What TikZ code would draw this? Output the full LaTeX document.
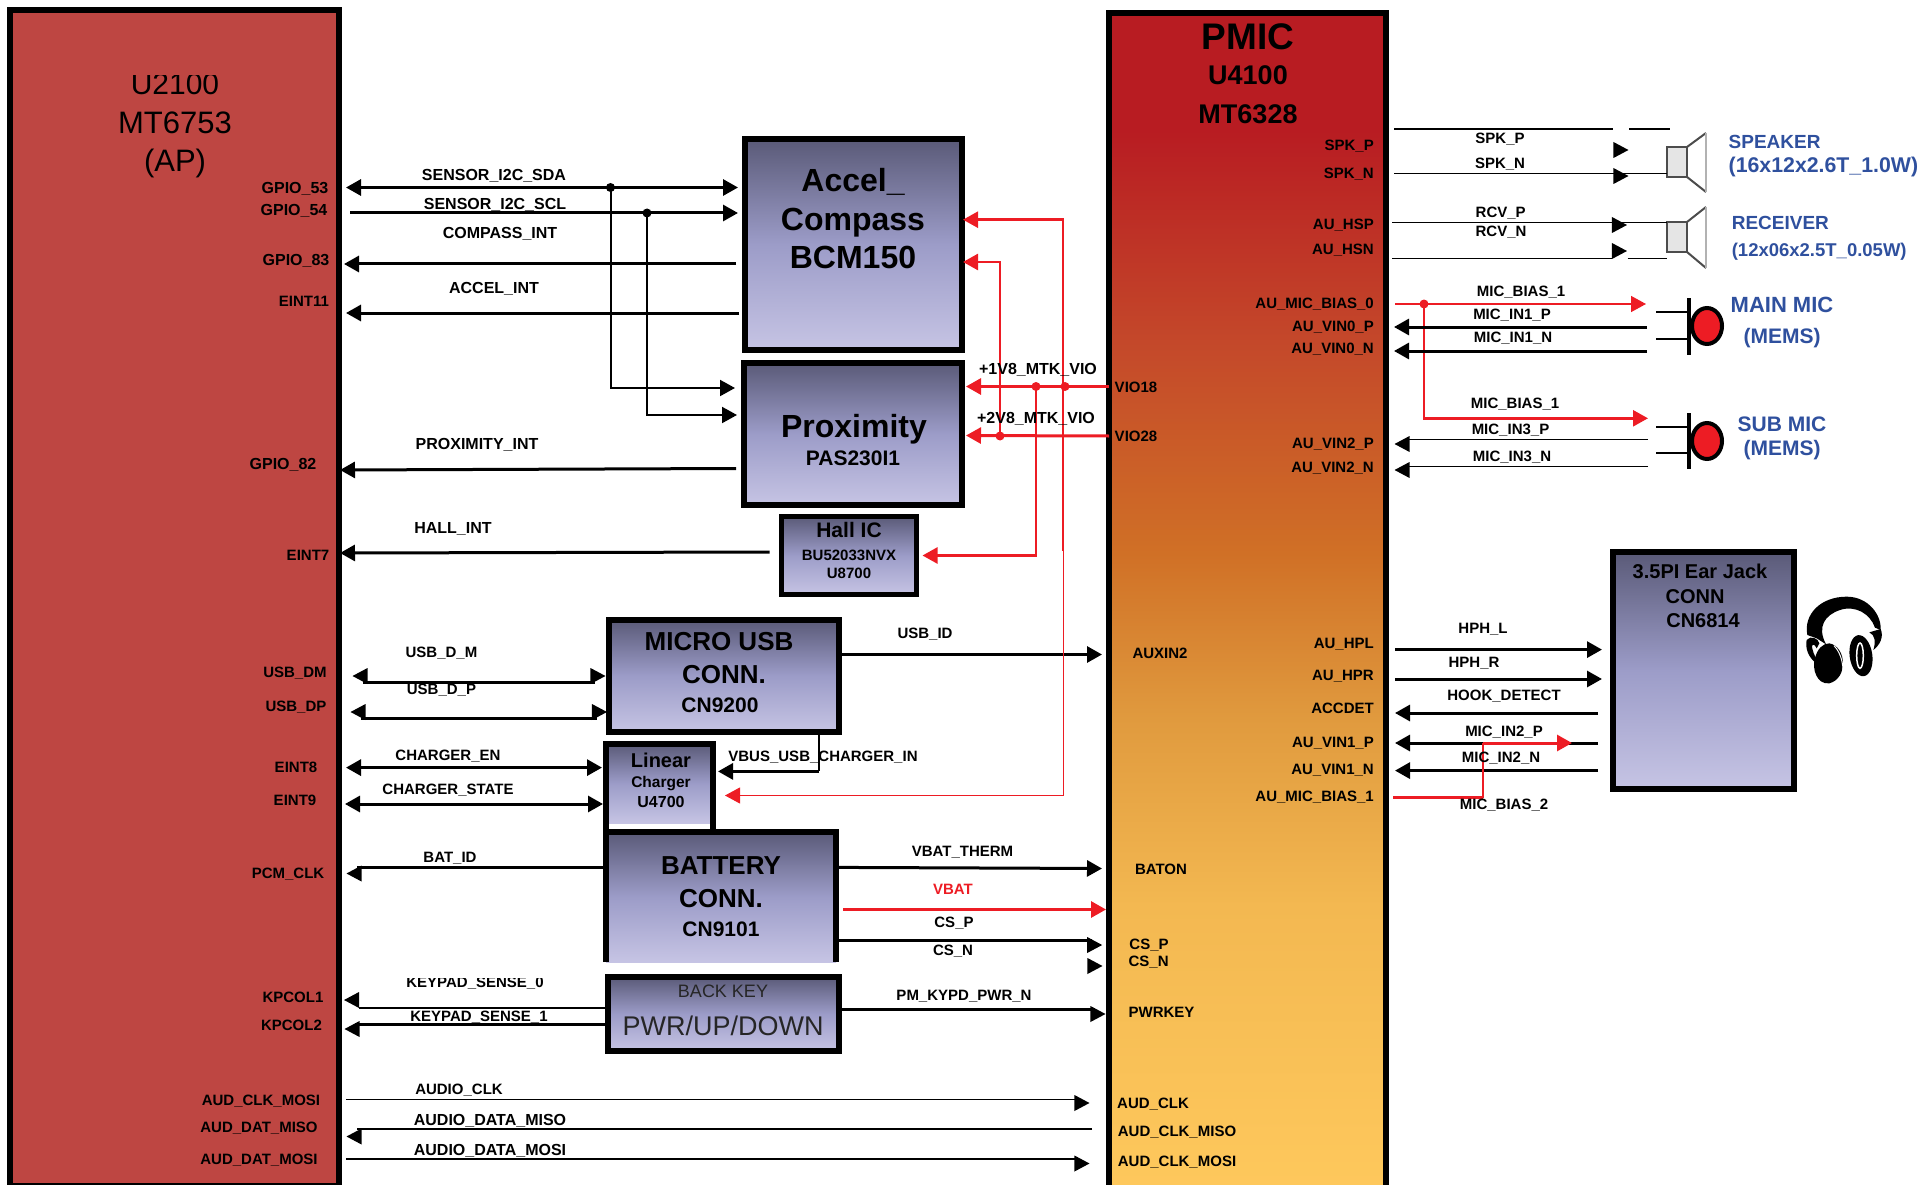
\documentclass[tikz,border=0pt]{standalone}
\usepackage{fontspec}
\setmainfont{Liberation Sans}
\usepackage{xcolor}
\usetikzlibrary{arrows.meta,shapes.geometric}

\definecolor{apred}{HTML}{BE4642}
\definecolor{blockT}{HTML}{5A5A78}
\definecolor{blockM}{HTML}{9C9CC8}
\definecolor{blockB}{HTML}{C6C4E4}
\definecolor{pinblue}{HTML}{2F509E}
\definecolor{sigred}{HTML}{ED1C24}
\definecolor{pmicA}{HTML}{B81C22}
\definecolor{pmicB}{HTML}{C4482A}
\definecolor{pmicC}{HTML}{D07026}
\definecolor{pmicD}{HTML}{E09A3E}
\definecolor{pmicE}{HTML}{F3B851}
\definecolor{pmicF}{HTML}{FEC85C}
\pgfdeclareverticalshading{pmicfill}{100bp}{color(0bp)=(pmicF); color(25bp)=(pmicF); color(37bp)=(pmicE); color(45bp)=(pmicD); color(52bp)=(pmicC); color(61bp)=(pmicB); color(70bp)=(pmicA); color(100bp)=(pmicA)}

\tikzset{
    blockfill/.style={rectangle, inner sep=0pt, outer sep=0pt, top color=blockT, bottom color=blockB, middle color=blockM},
    blockbox/.style={blockfill, draw=black, line width=6pt},
    edge/.style={draw=black, line width=6pt},
    blocktext/.style={align=center, inner sep=0pt, font=\bfseries\fontsize{#1}{38.5}\selectfont},
    thintext/.style={align=center, inner sep=0pt, font=\fontsize{#1}{38.5}\selectfont},
    netname/.style={inner sep=0pt, yshift=-1pt, font=\bfseries\fontsize{15}{15}\selectfont},
    widename/.style={netname, font=\bfseries\fontsize{16}{16}\selectfont},
    pinname/.style={inner sep=0pt, yshift=-1pt, font=\bfseries\fontsize{15}{15}\selectfont},
    pinwide/.style={pinname, font=\bfseries\fontsize{16}{16}\selectfont},
    pinright/.style={pinname, anchor=east},
    partname/.style={inner sep=0pt, text=pinblue, font=\bfseries\fontsize{#1}{#1}\selectfont},
    sig/.style={line width=3pt, >={Triangle[length=15pt,width=16pt]}},
    sigthin/.style={line width=1.5pt, >={Triangle[length=15pt,width=16pt]}},
    redsig/.style={sig, draw=sigred, color=sigred},
    redthin/.style={sigthin, line width=1pt, draw=sigred, color=sigred},
    dot/.style={circle, fill=black, inner sep=0pt, minimum size=9pt},
    reddot/.style={dot, fill=sigred},
    tipl/.style={isosceles triangle, isosceles triangle stretches, shape border rotate=180, fill=black, inner sep=0pt, minimum height=15pt, minimum width=16pt, anchor=apex},
    tipr/.style={isosceles triangle, isosceles triangle stretches, fill=black, inner sep=0pt, minimum height=15pt, minimum width=16pt, anchor=apex},
    spkbox/.style={rectangle, draw=black!70, fill=black!10, line width=2pt, inner sep=0pt, outer sep=0pt, minimum width=20pt, minimum height=30pt},
    cone/.style={draw=black!70, line width=2pt},
    micbar/.style={draw=black, line width=3.5pt},
    micdot/.style={ellipse, draw=black, fill=sigred, line width=4pt, inner sep=0pt, minimum width=30pt, minimum height=36pt}
}

\begin{document}
\begin{tikzpicture}[x=1pt, y=-1pt]
    \useasboundingbox (0,0) rectangle (1920,1185);

    % AP
    \node[rectangle, draw=black, fill=apred, line width=6pt, inner sep=0pt, outer sep=0pt, minimum width=329pt, minimum height=1176pt] (ap) at (174.5,598) {};
    \begin{scope}
        \clip (60,76) rectangle (290,100);
        \node[thintext=30] (apref) at (175,84) {U2100};
    \end{scope}
    \node[thintext=31] (apchip) at (175,123) {MT6753};
    \node[thintext=31] (aprole) at (175,163) {(AP)};

    % PMIC
    \node[rectangle, draw=black, shade, shading=pmicfill, line width=6pt, inner sep=0pt, outer sep=0pt, minimum width=277pt, minimum height=1175pt] (pmic) at (1247.5,600.5) {};
    \node[blocktext=37] (pmicname) at (1248,37) {PMIC};
    \node[blocktext=27] (pmicref) at (1248,75) {U4100};
    \node[blocktext=27] (pmicchip) at (1248,114) {MT6328};

    % Sensor blocks
    \node[blockbox, minimum width=217pt, minimum height=211pt] (accel) at (853.5,244.5) {};
    \node[blocktext=32] (accelname) at (853,219) {Accel\_\\Compass\\BCM150};
    \node[blockbox, minimum width=218pt, minimum height=142pt] (prox) at (853,434) {};
    \node[blocktext=32] (proxname) at (854,429) {Proximity};
    \node[blocktext=21] (proxchip) at (853,458) {PAS230I1};
    \node[blockbox, line width=5pt, minimum width=135pt, minimum height=78pt] (hall) at (849,555.5) {};
    \node[blocktext=21] (hallname) at (849,530) {Hall IC};
    \node[blocktext=15] (hallchip) at (849,555) {BU52033NVX};
    \node[blocktext=15] (hallref) at (849,573) {U8700};

    % Connector and charger blocks
    \node[blockbox, minimum width=230pt, minimum height=112pt] (micro) at (724,676) {};
    \node[blocktext=26] (microname) at (719,642) {MICRO USB};
    \node[blocktext=26] (microconn) at (724,675) {CONN.};
    \node[blocktext=21] (microref) at (720,705) {CN9200};
    \node[blockfill, minimum width=107pt, minimum height=79pt] (charger) at (659.5,783.5) {};
    \draw[edge] ([yshift=-6pt]charger.south west) |- (charger.north east) -- ([yshift=-6pt]charger.south east);
    \node[blocktext=20] (chargername) at (661,760) {Linear};
    \node[blocktext=15.5] (chargertype) at (661,784) {Charger};
    \node[blocktext=16] (chargerref) at (661,802) {U4700};
    \node[blockfill, minimum width=230pt, minimum height=130pt] (batt) at (721,897) {};
    \draw[edge] (batt.south west) |- (batt.north east) -- (batt.south east);
    \node[blocktext=26] (battname) at (721,866) {BATTERY};
    \node[blocktext=26] (battconn) at (721,899) {CONN.};
    \node[blocktext=21] (battref) at (721,929) {CN9101};
    \node[blockbox, minimum width=231pt, minimum height=74pt] (back) at (723.5,1014) {};
    \node[thintext=18, text=black!85] (backname) at (723,991) {BACK KEY};
    \node[thintext=27, text=black!85] (backkeys) at (723,1026) {PWR/UP/DOWN};
    \node[blockbox, minimum width=181pt, minimum height=237pt] (jack) at (1703.5,670.5) {};
    \node[blocktext=20] (jackname) at (1700,571) {3.5PI Ear Jack};
    \node[blocktext=20] (jackconn) at (1695,597) {CONN};
    \node[blocktext=20] (jackref) at (1703,621) {CN6814};

    % AP pins
    \node[pinwide] (gpio53) at (295,187.5) {GPIO\_53};
    \node[pinwide] (gpio54) at (294,210) {GPIO\_54};
    \node[pinwide] (gpio83) at (296,260) {GPIO\_83};
    \node[pinname] (eint11) at (304,300) {EINT11};
    \node[pinwide] (gpio82) at (283,464) {GPIO\_82};
    \node[pinname] (eint7) at (308,554) {EINT7};
    \node[pinname] (usbdm) at (295,672) {USB\_DM};
    \node[pinname] (usbdp) at (296,706.5) {USB\_DP};
    \node[pinname] (eint8) at (296,766.5) {EINT8};
    \node[pinname] (eint9) at (295,799.5) {EINT9};
    \node[pinname] (pcmclk) at (288,873) {PCM\_CLK};
    \node[pinname] (kpcol1) at (293,996) {KPCOL1};
    \node[pinname] (kpcol2) at (291.5,1024.5) {KPCOL2};
    \node[pinname] (audclkmosi) at (261,1100) {AUD\_CLK\_MOSI};
    \node[pinname] (auddatmiso) at (259,1127) {AUD\_DAT\_MISO};
    \node[pinname] (auddatmosi) at (259,1159) {AUD\_DAT\_MOSI};

    % PMIC pins, left side
    \node[pinname] (vio18) at (1136,386.5) {VIO18};
    \node[pinname] (vio28) at (1136,435.5) {VIO28};
    \node[pinname] (auxin2) at (1160,652.6) {AUXIN2};
    \node[pinname] (baton) at (1161,868) {BATON};
    \node[pinname] (csp) at (1149,943.7) {CS\_P};
    \node[pinname] (csn) at (1148.6,961.5) {CS\_N};
    \node[pinname] (pwrkey) at (1161.5,1011) {PWRKEY};
    \node[pinname] (audclk) at (1153,1102.7) {AUD\_CLK};
    \node[pinname] (audclkmiso) at (1177,1131.5) {AUD\_CLK\_MISO};
    \node[pinname] (audclkmosib) at (1177,1161.5) {AUD\_CLK\_MOSI};

    % PMIC pins, right side
    \node[pinright] (spkp) at (1374,145.4) {SPK\_P};
    \node[pinright] (spkn) at (1374,173.4) {SPK\_N};
    \node[pinright] (auhsp) at (1374,224) {AU\_HSP};
    \node[pinright] (auhsn) at (1374,249) {AU\_HSN};
    \node[pinright] (aubias0) at (1374,302.7) {AU\_MIC\_BIAS\_0};
    \node[pinright] (auvin0p) at (1374,326.4) {AU\_VIN0\_P};
    \node[pinright] (auvin0n) at (1374,348) {AU\_VIN0\_N};
    \node[pinright] (auvin2p) at (1374,443) {AU\_VIN2\_P};
    \node[pinright] (auvin2n) at (1374,467) {AU\_VIN2\_N};
    \node[pinright] (auhpl) at (1374,643.5) {AU\_HPL};
    \node[pinright] (auhpr) at (1374,675.4) {AU\_HPR};
    \node[pinright] (accdet) at (1374,707) {ACCDET};
    \node[pinright] (auvin1p) at (1374,742) {AU\_VIN1\_P};
    \node[pinright] (auvin1n) at (1374,769.5) {AU\_VIN1\_N};
    \node[pinright] (aubias1) at (1374,796.5) {AU\_MIC\_BIAS\_1};

    % Sensor nets
    \node[dot] (sdadot) at (610.5,187.5) {};
    \node[dot] (scldot) at (647,213) {};
    \draw[sig,<->] ([xshift=7pt]ap.east |- 0,187.5) -- ([xshift=-7pt]accel.west |- 0,187.5);
    \draw[sig,->] ([xshift=11pt]ap.east |- 0,213) -- ([xshift=-7pt]accel.west |- 0,213);
    \draw[sig,->] ([xshift=-9pt]accel.west |- 0,264) -- ([xshift=5pt]ap.east |- 0,264);
    \draw[sig,->] ([xshift=-6pt]accel.west |- 0,313) -- ([xshift=7pt]ap.east |- 0,313);
    \draw[sig,line width=2pt,->] (sdadot.center) |- ([xshift=-9pt]prox.west |- 0,388);
    \draw[sig,line width=2pt,->] (scldot.center) |- ([xshift=-7pt]prox.west |- 0,415);
    \draw[sig,->] ([xshift=-8pt]prox.west |- 0,468.5) -- ([xshift=1pt]ap.east |- 0,470);
    \draw[sig,->] ([xshift=-12pt]hall.west |- 0,552) -- ([xshift=1pt]ap.east |- 0,553);
    \node[widename] (sdaname) at (494,175) {SENSOR\_I2C\_SDA};
    \node[widename] (sclname) at (495,204) {SENSOR\_I2C\_SCL};
    \node[widename] (compassname) at (500,233) {COMPASS\_INT};
    \node[widename] (accelint) at (494,288) {ACCEL\_INT};
    \node[widename] (proxint) at (477,444) {PROXIMITY\_INT};
    \node[widename] (hallint) at (453,528) {HALL\_INT};

    % USB and charger nets
    \node[tipl] (usbmltip) at (352,676) {};
    \node[tipr] (usbmrtip) at (606,676) {};
    \node[tipl] (usbpltip) at (350,712) {};
    \node[tipr] (usbprtip) at (607.5,712) {};
    \draw[sig] (usbmltip.center |- 0,682) -- (usbmrtip.center |- 0,682);
    \draw[sig] (usbpltip.center |- 0,718) -- (usbprtip.center |- 0,718);
    \draw[sig,<->] ([xshift=7pt]ap.east |- 0,767.6) -- ([xshift=-4pt]charger.west |- 0,767.6);
    \draw[sig,<->] ([xshift=6pt]ap.east |- 0,804) -- ([xshift=-3pt]charger.west |- 0,804);
    \draw[sig,->] (micro.east |- 0,654.5) -- ([xshift=-7pt]pmic.west |- 0,654.5);
    \draw[sigthin] ([xshift=-20pt]micro.south east) -- ([xshift=-20pt]micro.east |- 0,771.4);
    \draw[sig,->] ([xshift=-20pt]micro.east |- 0,771.4) -- ([xshift=5pt]charger.east |- 0,771.4);
    \node[netname] (usbmname) at (441.5,652.6) {USB\_D\_M};
    \node[netname] (usbpname) at (441.5,689) {USB\_D\_P};
    \node[netname] (chgenname) at (448,755.5) {CHARGER\_EN};
    \node[netname] (chgstname) at (448,789) {CHARGER\_STATE};
    \node[netname] (usbidname) at (925,633.6) {USB\_ID};
    \node[netname] (vbusname) at (823,756) {VBUS\_USB\_CHARGER\_IN};

    % Battery and key nets
    \node[tipl] (batidtip) at (346,873.5) {};
    \node[tipr] (csptip) at (1102.7,945) {};
    \node[tipr] (csntip) at (1103,966) {};
    \node[tipr] (pwrtip) at (1106,1014) {};
    \node[tipl] (key0tip) at (343.5,1000) {};
    \node[tipl] (key1tip) at (344,1029) {};
    \draw[sig] (batt.west |- 0,867.4) -- (batidtip.center |- 0,867.4);
    \draw[sig,->] (batt.east |- 0,867.4) -- ([xshift=-7pt]pmic.west |- 0,868.5);
    \draw[redsig,->] ([xshift=7pt]batt.east |- 0,909.5) -- ([xshift=-3pt]pmic.west |- 0,909.5);
    \draw[sig] (batt.east |- 0,940.7) -- (csptip.center |- 0,940.7);
    \draw[sig] (back.east |- 0,1009.4) -- (pwrtip.center |- 0,1009.4);
    \draw[sig,line width=2.5pt] (back.west |- 0,1008) -- (key0tip.east |- 0,1008);
    \draw[sig] (back.west |- 0,1024) -- (key1tip.center |- 0,1024);
    \node[netname] (batidname) at (450,857) {BAT\_ID};
    \node[netname] (thermname) at (962.5,851.5) {VBAT\_THERM};
    \node[netname, text=sigred] (vbatname) at (953,888) {VBAT};
    \node[netname] (cspname) at (954,922) {CS\_P};
    \node[netname] (csnname) at (953,950) {CS\_N};
    \node[netname] (pwrname) at (964,995.5) {PM\_KYPD\_PWR\_N};
    \begin{scope}
        \clip (400,978) rectangle (560,1000);
        \node[netname] (key0name) at (475,982) {KEYPAD\_SENSE\_0};
    \end{scope}
    \node[netname] (key1name) at (479,1016) {KEYPAD\_SENSE\_1};

    % Audio bus nets
    \node[tipr] (clktip) at (1090,1103) {};
    \node[tipl] (misotip) at (346,1136.5) {};
    \node[tipr] (mositip) at (1090,1163.5) {};
    \draw[sigthin] ([xshift=7pt]ap.east |- 0,1099.5) -- (clktip.center |- 0,1099.5);
    \draw[sigthin] ([xshift=-17pt]pmic.west |- 0,1129) -- (misotip.center |- 0,1129);
    \draw[sigthin] ([xshift=7pt]ap.east |- 0,1159) -- (mositip.center |- 0,1159);
    \node[netname] (audclkname) at (459,1089.5) {AUDIO\_CLK};
    \node[widename] (audmisoname) at (490,1119.5) {AUDIO\_DATA\_MISO};
    \node[widename] (audmosiname) at (490,1149.5) {AUDIO\_DATA\_MOSI};

    % Power nets
    \node[reddot] (vio18dota) at (1065,386.5) {};
    \node[reddot] (vio18dotb) at (1036,386.5) {};
    \node[reddot] (vio28dot) at (1000,436) {};
    \coordinate (vio18bend) at (1063,551);
    \draw[redsig,->] (pmic.west |- 0,386.5) -- ([xshift=4pt]prox.east |- 0,386.5);
    \draw[redsig,->] (pmic.west |- 0,436) -- ([xshift=4pt]prox.east |- 0,435.5);
    \draw[redsig,line width=2.5pt,->] ([xshift=-2pt]vio18dota.center) |- ([xshift=1pt]accel.east |- 0,219.7);
    \draw[redsig,line width=2.5pt,->] (vio28dot.center) |- ([xshift=1pt]accel.east |- 0,262);
    \draw[redsig,line width=2.5pt,->] (vio18dotb.center) |- ([xshift=6pt]hall.east |- 0,555.5);
    \draw[redsig,line width=2.5pt] ([xshift=-2pt]vio18dota.center) -- (vio18bend);
    \draw[redthin,->] (vio18bend) |- ([xshift=12pt]charger.east |- 0,795.5);
    \node[widename] (vio18name) at (1038,369) {+1V8\_MTK\_VIO};
    \node[widename] (vio28name) at (1036,417.5) {+2V8\_MTK\_VIO};

    % Speaker nets
    \node[spkbox] (spk) at (1677,162) {};
    \node[spkbox] (rcv) at (1677,237) {};
    \draw[cone] (spk.north east) -- ++(19,-14);
    \draw[cone] (spk.south east) -- ++(19,15);
    \draw[draw=black!30, line width=2.5pt] ([xshift=19pt,yshift=14pt]spk.north east) -- ([xshift=19pt,yshift=-15pt]spk.south east);
    \draw[cone] (rcv.north east) -- ++(19,-15);
    \draw[cone] (rcv.south east) -- ++(19,16);
    \draw[draw=black!30, line width=2.5pt] ([xshift=19pt,yshift=15pt]rcv.north east) -- ([xshift=19pt,yshift=-16pt]rcv.south east);
    \node[tipr] (spkptip) at (1629,150) {};
    \node[tipr] (spkntip) at (1629,176) {};
    \node[tipr] (rcvptip) at (1627.5,225) {};
    \node[tipr] (rcvntip) at (1627.5,251) {};
    \draw[sigthin,line width=2pt] ([xshift=8pt]pmic.east |- 0,129) -- (spkptip.west |- 0,129);
    \draw[sigthin,line width=2pt] (spkptip.apex |- 0,129) -- ([xshift=3pt]spk.west |- 0,129);
    \draw[sigthin] ([xshift=8pt]pmic.east |- 0,173.4) -- (spk.west |- 0,173.4);
    \draw[sigthin] ([xshift=6pt]pmic.east |- 0,222.3) -- (rcv.west |- 0,222.3);
    \draw[sigthin] ([xshift=6pt]pmic.east |- 0,258.3) -- (rcvntip.west |- 0,258.3);
    \draw[sigthin] (rcvntip.apex |- 0,258.3) -- (rcv.west |- 0,258.3);
    \node[netname] (spkpname) at (1500,138.5) {SPK\_P};
    \node[netname] (spknname) at (1500,163.4) {SPK\_N};
    \node[netname] (rcvpname) at (1500.7,212) {RCV\_P};
    \node[netname] (rcvnname) at (1501,231.5) {RCV\_N};

    % Microphones
    \node[micdot] (mainmic) at (1707,326) {};
    \node[micdot] (submic) at (1707,441) {};
    \draw[micbar] (mainmic.center |- 0,298) ++(-18,0) -- ++(0,57);
    \draw[micbar] (submic.center |- 0,413) ++(-18,0) -- ++(0,56);
    \draw[sigthin,line width=2pt] (mainmic.west |- 0,312) -- ++(-34,0);
    \draw[sigthin,line width=2pt] (mainmic.west |- 0,339) -- ++(-34,0);
    \draw[sigthin,line width=2pt] (submic.west |- 0,427) -- ++(-34,0);
    \draw[sigthin,line width=2pt] (submic.west |- 0,453) -- ++(-34,0);

    % Microphone nets
    \node[reddot] (biasdot) at (1424,304) {};
    \node[tipl] (in3ptip) at (1394,444) {};
    \node[tipl] (in3ntip) at (1394,470) {};
    \draw[redthin,line width=1.5pt,->] ([xshift=9pt]pmic.east |- 0,304) -- ([xshift=-61pt]mainmic.center |- 0,304);
    \draw[redsig,line width=2.5pt,->] (biasdot.center) |- ([xshift=-59pt]submic.center |- 0,418.3);
    \draw[sig,->] ([xshift=-60pt]mainmic.center |- 0,327) -- ([xshift=8pt]pmic.east |- 0,327);
    \draw[sig,->] ([xshift=-60pt]mainmic.center |- 0,351) -- ([xshift=8pt]pmic.east |- 0,351);
    \draw[sigthin] ([xshift=-59pt]submic.center |- 0,439.3) -- (in3ptip.center |- 0,439.3);
    \draw[sigthin] ([xshift=-59pt]submic.center |- 0,466.5) -- (in3ntip.center |- 0,466.5);
    \node[netname] (bias0name) at (1521,291.6) {MIC\_BIAS\_1};
    \node[netname] (in1pname) at (1512,314.6) {MIC\_IN1\_P};
    \node[netname] (in1nname) at (1513,337) {MIC\_IN1\_N};
    \node[netname] (bias1name) at (1515,403.4) {MIC\_BIAS\_1};
    \node[netname] (in3pname) at (1510.5,429.4) {MIC\_IN3\_P};
    \node[netname] (in3nname) at (1512,456) {MIC\_IN3\_N};

    % Ear jack nets
    \coordinate (biasbend) at (1483,797.6);
    \draw[sig,->] ([xshift=9pt]pmic.east |- 0,649.6) -- ([xshift=-11pt]jack.west |- 0,649.6);
    \draw[sig,->] ([xshift=9pt]pmic.east |- 0,679) -- ([xshift=-11pt]jack.west |- 0,679);
    \draw[sig,->] ([xshift=-15pt]jack.west |- 0,713) -- ([xshift=9pt]pmic.east |- 0,713);
    \draw[sig,->] ([xshift=-15pt]jack.west |- 0,743) -- ([xshift=9pt]pmic.east |- 0,743);
    \draw[sig,->] ([xshift=-15pt]jack.west |- 0,770.6) -- ([xshift=9pt]pmic.east |- 0,770.6);
    \draw[redsig] ([xshift=7pt]pmic.east |- biasbend) -- (biasbend);
    \draw[redsig,line width=1.5pt] (biasbend) -- (biasbend |- 0,743);
    \draw[redsig,->] (biasbend |- 0,743) -- ([xshift=-41pt]jack.west |- 0,743);
    \node[netname] (hplname) at (1483,628) {HPH\_L};
    \node[netname] (hprname) at (1474,662.5) {HPH\_R};
    \node[netname] (hookname) at (1504,695) {HOOK\_DETECT};
    \node[netname] (in2pname) at (1504,731) {MIC\_IN2\_P};
    \node[netname] (in2nname) at (1501,757) {MIC\_IN2\_N};
    \node[netname] (bias2name) at (1504,804.4) {MIC\_BIAS\_2};

    % Part names
    \node[partname=19, anchor=west] (spkname) at (1728.5,142) {SPEAKER};
    \node[partname=21.3, anchor=west] (spksize) at (1728.5,167) {(16x12x2.6T\_1.0W)};
    \node[partname=19, anchor=west] (rcvname) at (1731.6,222.7) {RECEIVER};
    \node[partname=18.5, anchor=west] (rcvsize) at (1731.6,252) {(12x06x2.5T\_0.05W)};
    \node[partname=22] (mainname) at (1782,305.4) {MAIN MIC};
    \node[partname=21] (mainkind) at (1782,338) {(MEMS)};
    \node[partname=21] (subname) at (1782,424) {SUB MIC};
    \node[partname=21] (subkind) at (1782,449.7) {(MEMS)};

    % Headphones
    \begin{scope}[shift={(1790,585)}, x=0.3333pt, y=-0.3333pt]
        \fill (52,150) .. controls (40,90) and (90,35) .. (170,35) .. controls (235,35) and (275,90) .. (272,135)
            -- (255,128) .. controls (240,85) and (195,60) .. (150,75) .. controls (105,90) and (80,125) .. (108,178) -- (80,160) -- cycle;
        \fill (50,165) .. controls (62,150) and (85,160) .. (88,175) -- (80,190) .. controls (70,170) and (62,180) .. (68,195) .. controls (72,210) and (78,220) .. (85,228) -- (75,232) .. controls (55,215) and (45,190) .. (50,165) -- cycle;
        \fill (118,175) .. controls (170,185) and (175,280) .. (118,295) .. controls (80,300) and (65,250) .. (75,220) .. controls (82,190) and (100,175) .. (118,175) -- cycle;
        \draw[white, line width=1pt] (132,182) .. controls (155,205) and (165,250) .. (155,285);
        \fill[rotate around={8:(213,212)}] (213,212) ellipse [x radius=34, y radius=62];
        \draw[white, line width=1.5pt] (210,212) ellipse [x radius=10, y radius=38];
        \fill (238,142) -- (272,132) .. controls (282,155) and (270,180) .. (250,195) .. controls (258,170) and (255,150) .. (238,142) -- cycle;
    \end{scope}
\end{tikzpicture}
\end{document}
